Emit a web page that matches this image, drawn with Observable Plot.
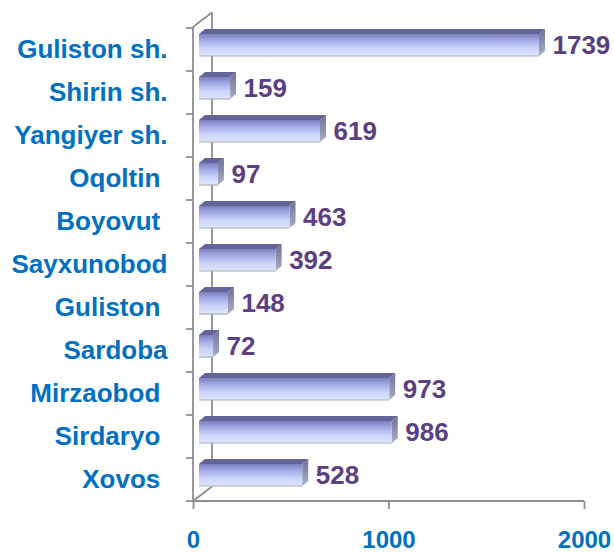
<!DOCTYPE html>
<html>
<head>
<meta charset="utf-8">
<script src="https://cdn.jsdelivr.net/npm/d3@7"></script>
<script src="https://cdn.jsdelivr.net/npm/@observablehq/plot@0.6"></script>
<style>
  html, body { margin: 0; padding: 0; background: #fff; }
  svg text { white-space: pre; }
</style>
</head>
<body>
<div id="chart"></div>
<script>
const categories = ["Guliston sh.", "Shirin sh.", "Yangiyer sh.", "Oqoltin ", "Boyovut ", "Sayxunobod", "Guliston ", "Sardoba", "Mirzaobod ", "Sirdaryo ", "Xovos "];
const values = [1739, 159, 619, 97, 463, 392, 148, 72, 973, 986, 528];
const xTicks = [0, 1000, 2000];

const data = categories.map((name, i) => ({name, value: values[i]}));

const GRAY = "#8e8e8e";
const DEPTH = [19, -14.5];   // wall depth
const BD = [6, -5];          // bar depth
const FRONT = 6;             // bar front offset

function walls(index, {x, y}, channels, dims) {
  const g = d3.create("svg:g");
  const x0 = x(0), x1 = x(xTicks[xTicks.length - 1]);
  const top = dims.marginTop, bottom = dims.height - dims.marginBottom;
  const line = (a, b, c, d) => g.append("line").attr("x1", a).attr("y1", b).attr("x2", c).attr("y2", d)
    .attr("stroke", GRAY).attr("stroke-width", 1.8);
  line(x0 + DEPTH[0], top + DEPTH[1], x0 + DEPTH[0], bottom + DEPTH[1]);
  line(x0, top, x0 + DEPTH[0], top + DEPTH[1]);
  line(x0, bottom, x0 + DEPTH[0], bottom + DEPTH[1]);
  line(x0, top, x0, bottom);
  line(x0, bottom, x1, bottom);
  const bounds = categories.map(c => y(c)).concat([bottom]);
  for (const b of bounds) line(x0 - 7, b, x0, b);
  return g.node();
}

function bars3d(index, {x, y}) {
  const g = d3.create("svg:g");
  const defs = g.append("defs");
  const gf = defs.append("linearGradient").attr("id", "gFront").attr("x1", 0).attr("y1", 0).attr("x2", 0).attr("y2", 1);
  [["0%", "#7b7fbc"], ["30%", "#a3aae4"], ["65%", "#cbd4fa"], ["100%", "#dee6ff"]]
    .forEach(([o, c]) => gf.append("stop").attr("offset", o).attr("stop-color", c));
  const gs = defs.append("linearGradient").attr("id", "gSide").attr("x1", 0).attr("y1", 0).attr("x2", 0).attr("y2", 1);
  [["0%", "#6e7099"], ["100%", "#a9afc2"]]
    .forEach(([o, c]) => gs.append("stop").attr("offset", o).attr("stop-color", c));
  for (const d of data) {
    const b = y(d.name);
    const xa = x(0) + FRONT, xb = x(d.value) + FRONT;
    const ft = b + 6, fb = b + 28;
    g.append("polygon")
      .attr("points", [[xa, ft], [xb, ft], [xb + BD[0], ft + BD[1]], [xa + BD[0], ft + BD[1]]].join(" "))
      .attr("fill", "#646498");
    g.append("polygon")
      .attr("points", [[xb, ft], [xb + BD[0], ft + BD[1]], [xb + BD[0], fb + BD[1]], [xb, fb]].join(" "))
      .attr("fill", "url(#gSide)");
  }
  return g.node();
}

function barEdges(index, {x, y}) {
  const g = d3.create("svg:g");
  for (const d of data) {
    const b = y(d.name);
    const xa = x(0) + FRONT, xb = x(d.value) + FRONT;
    g.append("line").attr("x1", xa).attr("x2", xb).attr("y1", b + 28).attr("y2", b + 28)
      .attr("stroke", "#a3b3aa").attr("stroke-width", 1.2);
  }
  return g.node();
}

const chart = Plot.plot({
  width: 614,
  height: 553,
  marginLeft: 193,
  marginRight: 30,
  marginTop: 27,
  marginBottom: 52,
  style: {fontFamily: "'Liberation Sans', Arial, sans-serif", fontWeight: "bold", background: "#fff"},
  x: {domain: [0, 2000], axis: null},
  y: {domain: categories, padding: 0, axis: null},
  marks: [
    walls,
    bars3d,
    Plot.barX(data, {x: "value", y: "name", fill: "url(#gFront)", insetTop: 6, insetBottom: 15.1, dx: FRONT}),
    barEdges,
    Plot.text(data, {x: "value", y: "name", text: d => String(d.value), textAnchor: "start", dx: FRONT + 13, dy: -4.5, fontSize: 26, fill: "#5b3f7f", fontWeight: "bold"}),
    Plot.axisY({tickSize: 0, tickPadding: 26, fontSize: 26, fill: "#0070c0", label: null, fontWeight: "bold"}),
    Plot.axisX({ticks: xTicks, tickSize: 8, tickPadding: 21, fontSize: 24, fill: "#0070c0", stroke: GRAY, strokeWidth: 1.8, label: null, tickFormat: d => String(d), fontWeight: "bold"})
  ]
});
document.getElementById("chart").appendChild(chart);
</script>
</body>
</html>
